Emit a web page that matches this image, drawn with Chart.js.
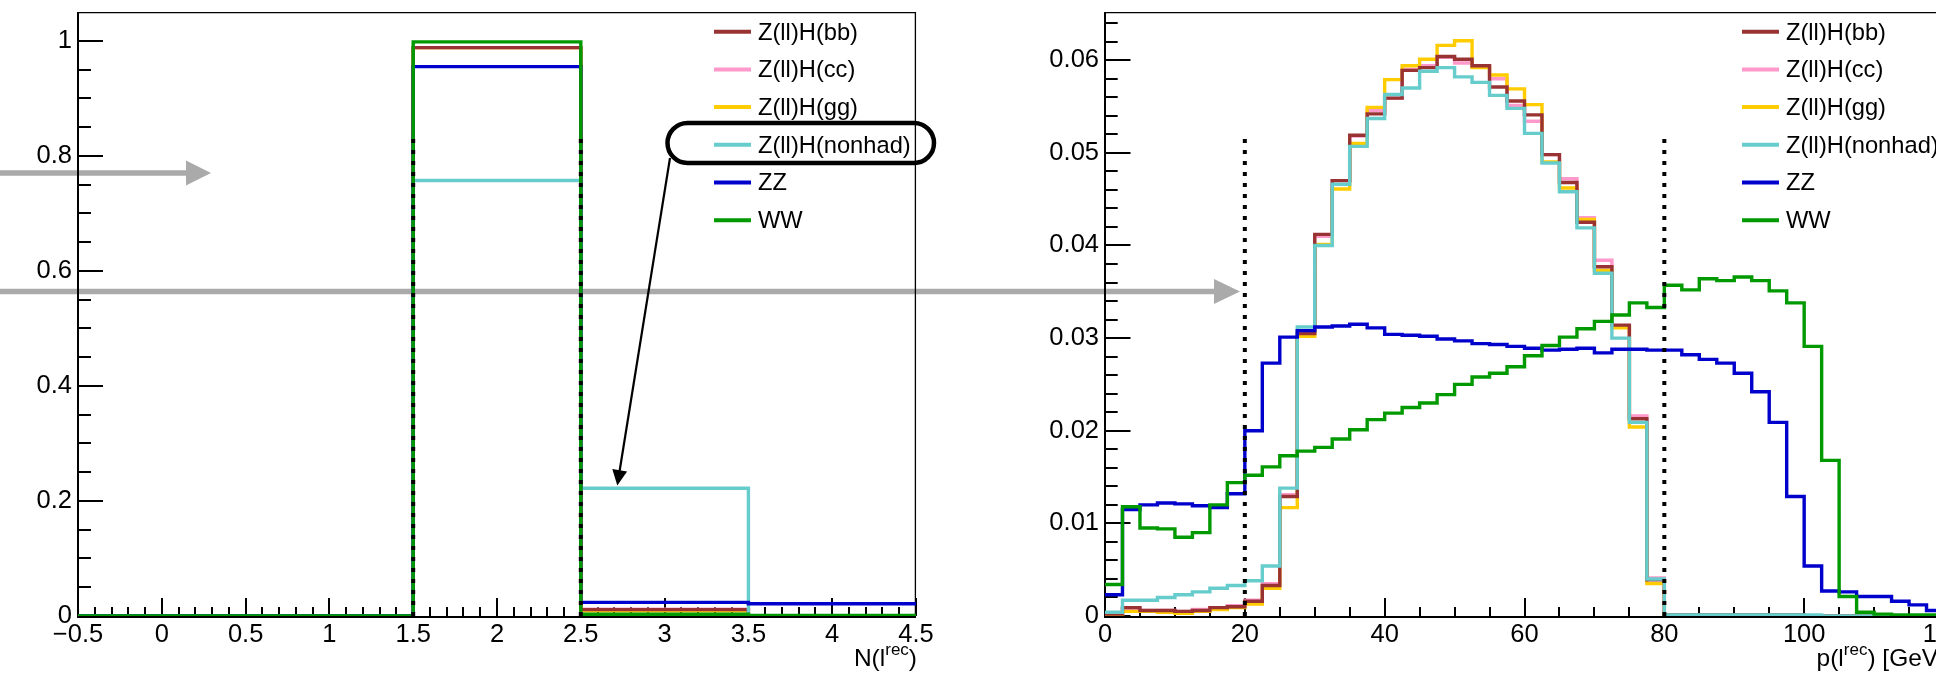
<!DOCTYPE html>
<html><head><meta charset="utf-8">
<script src="https://cdn.jsdelivr.net/npm/chart.js@4"></script>
<style>
html,body{margin:0;padding:0;width:1936px;height:681px;overflow:hidden;background:#fff;}
#wrap{position:relative;width:1936px;height:681px;overflow:hidden;}
canvas{position:absolute;top:0;}
svg{position:absolute;left:0;top:0;}
</style></head><body>
<div id="wrap">
<svg id="under" width="1936" height="681" style="z-index:0">
  <line x1="0" y1="173" x2="190" y2="173" stroke="#aaaaaa" stroke-width="5.5"/>
  <polygon points="186,160.5 211,173 186,185.5" fill="#aaaaaa"/>
  <line x1="0" y1="291.5" x2="1218" y2="291.5" stroke="#aaaaaa" stroke-width="5.5"/>
  <polygon points="1214,279 1240,291.5 1214,304" fill="#aaaaaa"/>
</svg>
<canvas id="cL" width="1000" height="681" style="left:0;z-index:1"></canvas>
<canvas id="cR" width="1000" height="681" style="left:1000px;z-index:1"></canvas>
<svg id="over" width="1936" height="681" style="z-index:2">
  <rect x="667.5" y="123" width="266.5" height="40" rx="20" ry="20" fill="none" stroke="#000" stroke-width="4.5"/>
  <line x1="670" y1="158" x2="619.6" y2="471" stroke="#000" stroke-width="2.2"/>
  <polygon points="627.1,471.4 612.3,469.0 617.3,485.5" fill="#000"/>
</svg>
</div>
<script>
// ---------------- DATA ----------------
const legendLabels = ['Z(ll)H(bb)', 'Z(ll)H(cc)', 'Z(ll)H(gg)', 'Z(ll)H(nonhad)', 'ZZ', 'WW'];

// Left panel: number of reconstructed leptons, bins centred on 0..4
const nLepEdges = [-0.5, 0.5, 1.5, 2.5, 3.5, 4.5];
const nLep_bb     = [0, 0, 0.988, 0.011, 0.0003];
const nLep_cc     = [0, 0, 0.988, 0.012, 0.0003];
const nLep_gg     = [0, 0, 0.988, 0.009, 0.0002];
const nLep_nonhad = [0, 0, 0.757, 0.222, 0.0005];
const nLep_ZZ     = [0, 0, 0.955, 0.0236, 0.0213];
const nLep_WW     = [0, 0, 0.998, 0.0030, 0.0010];
const nLepCuts = [1.5, 2.5];
const nLepCutTop = 0.84;
const nLepXTickLabels = ['\u22120.5', '0', '0.5', '1', '1.5', '2', '2.5', '3', '3.5', '4', '4.5'];
const nLepYTickLabels = ['0', '0.2', '0.4', '0.6', '0.8', '1'];

// Right panel: lepton momentum, 48 bins of 2.5 GeV from 0 to 120
const pBinWidth = 2.5;
const pNBins = 48;
const p_bb = [0.0002,0.0009,0.0006,0.0006,0.0005,0.0006,0.0009,0.0010,0.0016,0.0033,
  0.0129,0.0305,0.0412,0.0470,0.0519,0.0542,0.0559,0.0589,0.0592,0.0604,
  0.0601,0.0594,0.0571,0.0556,0.0541,0.0498,0.0468,0.0425,0.0377,0.0314,
  0.0213,0.0039,0.0001,0.0001,0.0001,0.0001,0.0001,0.0001,0.0001,0.0001,
  0,0,0,0,0,0,0,0];
const p_cc = [0.0002,0.0008,0.0006,0.0006,0.0005,0.0007,0.0009,0.0011,0.0017,0.0035,
  0.0131,0.0307,0.0410,0.0470,0.0518,0.0546,0.0559,0.0590,0.0594,0.0603,
  0.0597,0.0593,0.0580,0.0551,0.0534,0.0498,0.0472,0.0430,0.0384,0.0312,
  0.0216,0.0041,0.0001,0.0001,0.0001,0.0001,0.0001,0.0001,0.0001,0.0001,
  0,0,0,0,0,0,0,0];
const p_gg = [0.0001,0.0005,0.0005,0.0004,0.0003,0.0005,0.0007,0.0009,0.0013,0.0030,
  0.0117,0.0302,0.0401,0.0461,0.0510,0.0549,0.0579,0.0594,0.0601,0.0616,
  0.0621,0.0592,0.0584,0.0569,0.0552,0.0490,0.0462,0.0428,0.0373,0.0311,
  0.0204,0.0035,0.0001,0,0,0,0,0,0,0,
  0,0,0,0,0,0,0,0];
const p_nonhad = [0.0004,0.0017,0.0017,0.0020,0.0023,0.0026,0.0030,0.0033,0.0038,0.0054,
  0.0138,0.0312,0.0400,0.0466,0.0507,0.0537,0.0563,0.0570,0.0588,0.0592,
  0.0582,0.0576,0.0562,0.0548,0.0521,0.0489,0.0458,0.0419,0.0370,0.0300,
  0.0209,0.0040,0.0001,0.0001,0.0001,0.0001,0.0001,0.0001,0.0001,0.0001,
  0.0001,0,0,0,0,0,0,0];
const p_ZZ = [0.0023,0.0115,0.0120,0.0122,0.0121,0.0119,0.0117,0.0132,0.0200,0.0273,
  0.0301,0.0308,0.0312,0.0313,0.0315,0.0311,0.0304,0.0303,0.0302,0.0299,
  0.0297,0.0294,0.0293,0.0291,0.0289,0.0287,0.0288,0.0289,0.0284,0.0288,
  0.0288,0.0287,0.0287,0.0282,0.0277,0.0273,0.0262,0.0242,0.0209,0.0129,
  0.0054,0.0027,0.0026,0.0021,0.0021,0.0016,0.0012,0.0006];
const p_WW = [0.0034,0.0118,0.0095,0.0094,0.0085,0.0090,0.0120,0.0144,0.0152,0.0161,
  0.0173,0.0178,0.0182,0.0191,0.0201,0.0212,0.0219,0.0225,0.0230,0.0239,
  0.0250,0.0258,0.0262,0.0269,0.0281,0.0292,0.0301,0.0310,0.0318,0.0325,
  0.0338,0.0333,0.0357,0.0352,0.0364,0.0362,0.0366,0.0362,0.0351,0.0338,
  0.0291,0.0168,0.0021,0.0004,0.0002,0.0001,0.0001,0.0001];
const pCuts = [20, 80];
const pCutTop = 0.052;
const pXTickLabels = ['0', '20', '40', '60', '80', '100', '120'];
const pYTickLabels = ['0', '0.01', '0.02', '0.03', '0.04', '0.05', '0.06'];

// ---------------- STYLE ----------------
const COLORS = {bb:'#993333', cc:'#ff99cc', gg:'#ffcc00', nonhad:'#66cccc', ZZ:'#0000cc', WW:'#009900'};
const legendColors = [COLORS.bb, COLORS.cc, COLORS.gg, COLORS.nonhad, COLORS.ZZ, COLORS.WW];
const FONT = "'Liberation Sans', Arial, Helvetica, sans-serif";
const TICK_FONT = 25.5;
const LEGEND_FONT = 23.7;

const pEdges = [];
for (let i = 0; i <= pNBins; i++) pEdges.push(i * pBinWidth);

function histPoints(edges, values) {
  const pts = values.map((v, i) => ({x: edges[i], y: v}));
  pts.push({x: edges[values.length], y: values[values.length - 1]});
  return pts;
}
function histDS(edges, values, color) {
  return {data: histPoints(edges, values), borderColor: color, borderWidth: 3.4, pointRadius: 0,
          stepped: true, fill: false, borderJoinStyle: 'miter', borderCapStyle: 'butt'};
}
function cutDS(x, top) {
  return {data: [{x: x, y: 0}, {x: x, y: top}], borderColor: '#000', borderWidth: 4, pointRadius: 0,
          borderDash: [4, 7], fill: false, borderCapStyle: 'butt'};
}

const rootStyle = {
  id: 'rootStyle',
  beforeDatasetsDraw(chart, args, o) {
    const {ctx, chartArea: a, scales: {x, y}} = chart;
    ctx.save();
    ctx.strokeStyle = '#000';
    ctx.lineCap = 'butt';
    ctx.lineWidth = 1.3;
    ctx.beginPath();
    ctx.moveTo(a.left, a.top + 0.6); ctx.lineTo(a.right, a.top + 0.6);
    ctx.moveTo(a.right - 0.6, a.top); ctx.lineTo(a.right - 0.6, a.bottom);
    ctx.stroke();
    ctx.lineWidth = 2;
    ctx.beginPath();
    ctx.moveTo(a.left, a.top); ctx.lineTo(a.left, a.bottom + 1); ctx.lineTo(a.right, a.bottom + 1);
    ctx.stroke();
    // x ticks
    const nx = Math.round((x.max - x.min) / o.xMinor);
    for (let k = 0; k <= nx; k++) {
      const v = x.min + k * o.xMinor;
      const r = (v - o.xMajorStart) / o.xMajor;
      const major = Math.abs(r - Math.round(r)) < 1e-6;
      const px = Math.round(x.getPixelForValue(v));
      ctx.beginPath(); ctx.moveTo(px, a.bottom); ctx.lineTo(px, a.bottom - (major ? o.xMajorLen : o.xMinorLen)); ctx.stroke();
    }
    // y ticks
    const ny = Math.floor((y.max - y.min) / o.yMinor - 1e-6);
    for (let k = 0; k <= ny; k++) {
      const v = y.min + k * o.yMinor;
      const r = v / o.yMajor;
      const major = Math.abs(r - Math.round(r)) < 1e-6;
      const py = Math.round(y.getPixelForValue(v));
      ctx.beginPath(); ctx.moveTo(a.left, py); ctx.lineTo(a.left + (major ? o.yMajorLen : o.yMinorLen), py); ctx.stroke();
    }
    ctx.restore();
  },
  afterDraw(chart, args, o) {
    const {ctx, chartArea: a} = chart;
    ctx.save();
    // legend
    legendLabels.forEach((lab, k) => {
      const yy = a.top + 19.7 + 37.7 * k;
      ctx.strokeStyle = legendColors[k];
      ctx.lineWidth = 4;
      ctx.beginPath(); ctx.moveTo(a.right - 202, yy); ctx.lineTo(a.right - 165, yy); ctx.stroke();
      ctx.fillStyle = '#000';
      ctx.font = LEGEND_FONT + 'px ' + FONT;
      ctx.textAlign = 'left';
      ctx.textBaseline = 'alphabetic';
      ctx.fillText(lab, a.right - 158, yy + 7.8);
    });
    // axis title with superscript
    const parts = o.title;
    let total = 0;
    parts.forEach(p => { ctx.font = p.size + 'px ' + FONT; total += ctx.measureText(p.t).width; });
    let xx = a.right + 1 - total;
    const base = a.bottom + 50;
    parts.forEach(p => {
      ctx.font = p.size + 'px ' + FONT;
      ctx.fillStyle = '#000';
      ctx.textAlign = 'left';
      ctx.textBaseline = 'alphabetic';
      ctx.fillText(p.t, xx, base - (p.rise || 0));
      xx += ctx.measureText(p.t).width;
    });
    ctx.restore();
  }
};

function makeOptions(cfg) {
  return {
    responsive: false, animation: false, events: [],
    layout: {padding: {left: 0, top: 12, right: cfg.padRight, bottom: 0}},
    plugins: {legend: {display: false}, tooltip: {enabled: false}, rootStyle: cfg.style},
    scales: {
      x: {type: 'linear', min: cfg.xMin, max: cfg.xMax,
          grid: {display: false, drawTicks: false}, border: {display: false},
          ticks: {stepSize: cfg.xStep, includeBounds: false, autoSkip: false, maxRotation: 0, padding: 4,
                  color: '#000', font: {family: FONT, size: TICK_FONT},
                  callback: (v, i) => cfg.xLabels[i]},
          afterFit: s => { s.height = 65; s.paddingLeft = 0; s.paddingRight = 0; }},
      y: {type: 'linear', min: 0, max: cfg.yMax,
          grid: {display: false, drawTicks: false}, border: {display: false},
          ticks: {stepSize: cfg.yStep, includeBounds: false, autoSkip: false, padding: 6,
                  color: '#000', font: {family: FONT, size: TICK_FONT},
                  callback: (v, i) => cfg.yLabels[i]},
          afterFit: s => { s.width = cfg.yWidth; s.paddingTop = 0; s.paddingBottom = 0; }}
    }
  };
}

new Chart(document.getElementById('cL'), {
  type: 'line',
  data: {datasets: [
    ...nLepCuts.map(c => cutDS(c, nLepCutTop)),
    histDS(nLepEdges, nLep_WW, COLORS.WW),
    histDS(nLepEdges, nLep_ZZ, COLORS.ZZ),
    histDS(nLepEdges, nLep_nonhad, COLORS.nonhad),
    histDS(nLepEdges, nLep_bb, COLORS.bb),
    histDS(nLepEdges, nLep_gg, COLORS.gg),
    histDS(nLepEdges, nLep_cc, COLORS.cc)
  ]},
  options: makeOptions({padRight: 84, yWidth: 78, xMin: -0.5, xMax: 4.5, xStep: 0.5, yMax: 1.05, yStep: 0.2,
    xLabels: nLepXTickLabels, yLabels: nLepYTickLabels,
    style: {xMinor: 0.1, xMajor: 0.5, xMajorStart: -0.5, xMajorLen: 18, xMinorLen: 9,
            yMinor: 0.05, yMajor: 0.2, yMajorLen: 25, yMinorLen: 13,
            title: [{t: 'N(l', size: 24.5}, {t: 'rec', size: 17, rise: 11}, {t: ')', size: 24.5}]}}),
  plugins: [rootStyle]
});

new Chart(document.getElementById('cR'), {
  type: 'line',
  data: {datasets: [
    ...pCuts.map(c => cutDS(c, pCutTop)),
    histDS(pEdges, p_WW, COLORS.WW),
    histDS(pEdges, p_ZZ, COLORS.ZZ),
    histDS(pEdges, p_nonhad, COLORS.nonhad),
    histDS(pEdges, p_bb, COLORS.bb),
    histDS(pEdges, p_gg, COLORS.gg),
    histDS(pEdges, p_cc, COLORS.cc)
  ]},
  options: makeOptions({padRight: 56, yWidth: 105, xMin: 0, xMax: 120, xStep: 20, yMax: 0.0652, yStep: 0.01,
    xLabels: pXTickLabels, yLabels: pYTickLabels,
    style: {xMinor: 5, xMajor: 20, xMajorStart: 0, xMajorLen: 18, xMinorLen: 9,
            yMinor: 0.002, yMajor: 0.01, yMajorLen: 25.5, yMinorLen: 12.7,
            title: [{t: 'p(l', size: 24.5}, {t: 'rec', size: 17, rise: 11}, {t: ') [GeV]', size: 24.5}]}}),
  plugins: [rootStyle]
});
</script>
</body></html>
